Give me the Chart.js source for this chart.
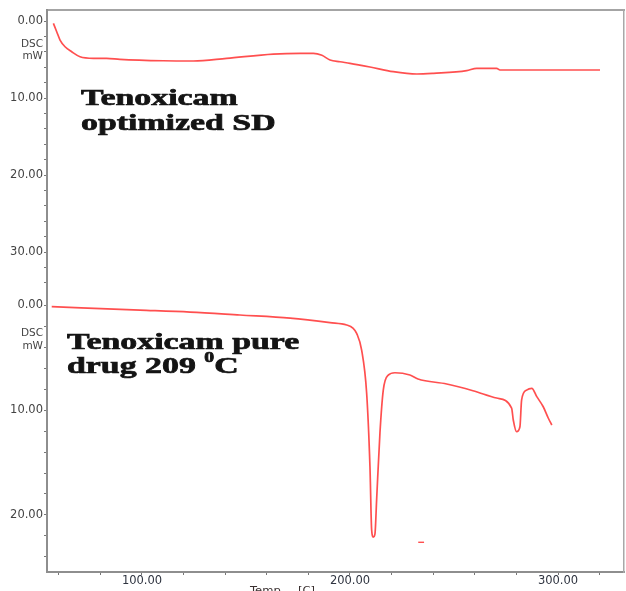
<!DOCTYPE html>
<html><head><meta charset="utf-8">
<script src="https://cdn.jsdelivr.net/npm/chart.js@4.4.1/dist/chart.umd.min.js"></script>
<style>html,body{margin:0;padding:0;background:#fff;overflow:hidden}#wrap{position:relative;width:626px;height:591px}</style>
</head><body><div id="wrap"><canvas id="c" width="626" height="591"></canvas></div>
<script>
// Tenoxicam optimized SD (upper DSC trace): temperature [C] and heat flow [mW]
const sdTemps = [57.4, 59.0, 60.6, 63.0, 66.2, 70.2, 76.6, 83.0, 89.4, 110.2, 124.7, 140.7, 163.1, 176.0, 182.4, 186.5, 190.4, 195.2, 200.0, 209.6, 220.8, 232.1, 240.1, 256.1, 260.9, 270.5, 272.1, 320.2];
const sdDsc = [0.30, 1.39, 2.47, 3.34, 3.99, 4.64, 4.84, 4.84, 4.97, 5.16, 5.19, 4.84, 4.29, 4.19, 4.19, 4.45, 5.06, 5.29, 5.49, 5.97, 6.58, 6.88, 6.79, 6.45, 6.14, 6.14, 6.36, 6.36];
// Tenoxicam pure drug (lower DSC trace)
const pureTemps = [56.6, 99.0, 123.1, 147.1, 171.2, 190.4, 198.4, 201.4, 203.2, 205.6, 208.0, 209.6, 210.4, 211.2, 212.0, 212.8, 214.4, 216.0, 218.4, 221.6, 228.8, 232.7, 246.5, 259.1, 270.5, 277.7, 278.5, 280.1, 281.7, 282.5, 284.9, 287.4, 289.8, 292.9, 295.3, 297.0];
const pureDsc = [0.16, 0.48, 0.67, 0.95, 1.24, 1.67, 1.90, 2.19, 2.70, 4.29, 8.38, 15.4, 21.4, 22.1, 21.8, 18.57, 12.19, 8.1, 6.67, 6.45, 6.67, 7.05, 7.52, 8.16, 8.86, 9.81, 10.95, 12.07, 11.59, 9.05, 8.1, 7.93, 8.73, 9.69, 10.76, 11.43];
// small stray red dash under the pure-drug trace
const speckTemps = [232.8, 235.6];
const speckDsc = [22.6, 22.6];
// axis ranges and labels
const tempRange = [54.33, 331.73];
const tempLabelEvery = 100;
const sdRange = [-1.43, 35.71];
const pureRange = [-0.86, 25.43];
const dscLabelEvery = 10;
const unitLabel = ['DSC', 'mW'];
const sdUnitAt = 3.8;
const pureUnitAt = 3.3;
const xTitle = ['Temp', '[C]'];
const sdNote = ['Tenoxicam', 'optimized SD'];
const pureNote = ['Tenoxicam pure', 'drug 209 ', '0', 'C'];

const pts = (xs, ys) => xs.map((x, i) => ({x, y: ys[i]}));
const LINE = 'rgba(255,64,64,0.92)';
const AXIS = '#8e8e8e';
const FONT = 'DejaVu Sans';

function yAxis(range, weight, unitAt) {
  return {
    type: 'linear', position: 'left', stack: 'dsc', stackWeight: weight, reverse: true,
    min: range[0], max: range[1],
    afterBuildTicks: s => { s.ticks.push({value: unitAt}); s.ticks.sort((a, b) => a.value - b.value); },
    afterFit: s => { s.width = 47; },
    ticks: {
      stepSize: 2, includeBounds: false, autoSkip: false, padding: 1, color: '#444',
      font: c => (c.tick && c.tick.value === unitAt) ? {family: FONT, size: 10.5} : {family: FONT, size: 11.5},
      callback: v => v === unitAt ? unitLabel : (v % dscLabelEvery === 0 ? v.toFixed(2) : '')
    },
    grid: {
      display: true, drawOnChartArea: false, drawTicks: true, tickLength: 3, tickWidth: 1,
      tickColor: c => (c.tick && c.tick.value === unitAt) ? 'rgba(0,0,0,0)' : '#777'
    },
    border: {display: true, color: AXIS, width: 2}
  };
}

const notes = {
  id: 'notes',
  afterDraw(chart) {
    const ctx = chart.ctx;
    const sx = 1.41;
    const serif = 'bold 24px "Liberation Serif"';
    function put(text, x, y, font, scale, heavy) {
      ctx.save(); ctx.translate(x, y); ctx.scale(scale, 1); ctx.font = font;
      ctx.fillText(text, 0, 0);
      if (heavy) { ctx.lineWidth = 0.7; ctx.strokeText(text, 0, 0); }
      const w = ctx.measureText(text).width * scale; ctx.restore(); return w;
    }
    ctx.save();
    ctx.fillStyle = '#141414';
    ctx.strokeStyle = '#141414';
    ctx.textBaseline = 'alphabetic';
    put(sdNote[0], 81, 105, serif, sx, true);
    put(sdNote[1], 81, 130, serif, sx, true);
    put(pureNote[0], 67, 349, serif, sx, true);
    let x = 67;
    x += put(pureNote[1], x, 373, serif, sx, true);
    x += put(pureNote[2], x, 362, 'bold 14px "Liberation Serif"', sx, true);
    put(pureNote[3], x, 373, serif, sx, true);
    ctx.fillStyle = '#3a3030';
    ctx.textBaseline = 'top';
    put(xTitle[0], 250, 586, '11px "DejaVu Sans"', 1.05, false);
    put(xTitle[1], 298, 586, '11px "DejaVu Sans"', 1.05, false);
    ctx.restore();
  }
};

new Chart(document.getElementById('c'), {
  type: 'line',
  data: {
    datasets: [
      {data: pts(sdTemps, sdDsc), yAxisID: 'yTop', borderColor: LINE, borderWidth: 1.7, pointRadius: 0, cubicInterpolationMode: 'monotone', fill: false},
      {data: pts(pureTemps, pureDsc), yAxisID: 'yBot', borderColor: LINE, borderWidth: 1.7, pointRadius: 0, cubicInterpolationMode: 'monotone', fill: false},
      {data: pts(speckTemps, speckDsc), yAxisID: 'yBot', borderColor: LINE, borderWidth: 1.4, pointRadius: 0, fill: false}
    ]
  },
  options: {
    responsive: false, animation: false, devicePixelRatio: 1,
    layout: {padding: {top: 10, right: 2, left: 0, bottom: 0}},
    plugins: {legend: {display: false}, tooltip: {enabled: false}},
    scales: {
      x: {
        type: 'linear', position: 'bottom', min: tempRange[0], max: tempRange[1],
        afterFit: s => { s.height = 19; },
        ticks: {stepSize: 20, includeBounds: false, autoSkip: false, maxRotation: 0, minRotation: 0, padding: -1,
          color: '#2f3440', font: {family: FONT, size: 11.5},
          callback: v => v % tempLabelEvery === 0 ? v.toFixed(2) : ''},
        grid: {drawOnChartArea: false, drawTicks: true, tickLength: 3, tickColor: '#777'},
        border: {color: AXIS, width: 2}
      },
      xTop: {
        type: 'linear', position: 'top', min: 0, max: 1,
        afterFit: s => { s.height = 0; },
        ticks: {display: false}, grid: {display: false},
        border: {display: true, color: '#a4a4a4', width: 2}
      },
      // left axes in a stack: the later one is placed on top by Chart.js
      yBot: yAxis(pureRange, 276, pureUnitAt),
      yTop: yAxis(sdRange, 286, sdUnitAt),
      yRight: {
        type: 'linear', position: 'right', min: 0, max: 1,
        afterFit: s => { s.width = 0; },
        ticks: {display: false}, grid: {display: false},
        border: {display: true, color: '#a8a8a8', width: 1.5}
      }
    }
  },
  plugins: [notes]
});
</script></body></html>
